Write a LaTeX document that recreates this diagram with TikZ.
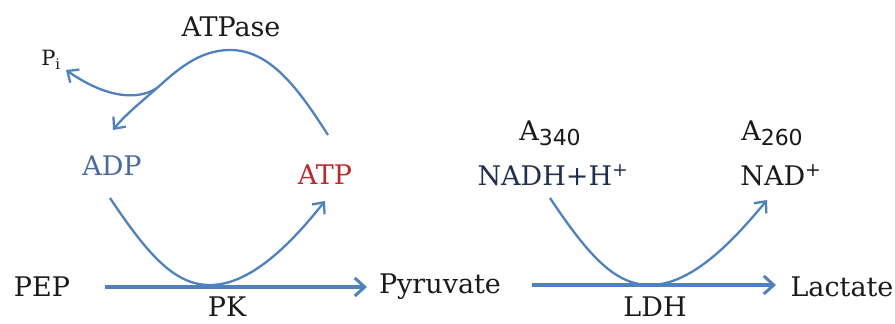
\documentclass[tikz,border=0pt]{standalone}
\usepackage{fontspec}
\setmainfont{DejaVu Serif}
\newfontfamily\subsans{DejaVu Sans}
\usetikzlibrary{arrows.meta}
\definecolor{lineblue}{HTML}{4F81BD}
\definecolor{adpblue}{HTML}{4A6A9E}
\definecolor{atpred}{HTML}{C0272D}
\definecolor{navy}{HTML}{1F2F4F}
\definecolor{txt}{HTML}{1A1A1A}
\tikzset{
  lbl/.style={inner sep=0pt, text=txt, font=\fontsize{27}{30}\selectfont},
  main/.style={draw=lineblue, line width=3.2pt, -{Straight Barb[length=10pt,width=18pt,line width=3pt]}},
  curve/.style={draw=lineblue, line width=2.3pt},
  curvearr/.style={curve, -{Straight Barb[length=9pt,width=16pt,line width=2.3pt]}}
}
\begin{document}
\begin{tikzpicture}[x=1pt,y=-1pt]
\useasboundingbox (0,0) rectangle (895,324);
% labels
\node[lbl] (atpase) at (231,27) {ATPase};
\node[lbl, font=\fontsize{21}{24}\selectfont] (pi) at (51,60) {P\textsubscript{i}};
\node[lbl, text=adpblue] (adp) at (112,166) {ADP};
\node[lbl, text=atpred] (atp) at (325,175) {ATP};
\node[lbl] (pep) at (42,287) {PEP};
\node[lbl] (pk) at (227,307) {PK};
\node[lbl] (pyr) at (440,287) {Pyruvate};
\node[lbl] (a340) at (550,133) {A{\subsans\raisebox{-0.35ex}{\fontsize{22}{24}\selectfont 340}}};
\node[lbl, text=navy] (nadh) at (553,175) {NADH+H\textsuperscript{+}};
\node[lbl] (a260) at (772,133) {A{\subsans\raisebox{-0.35ex}{\fontsize{22}{24}\selectfont 260}}};
\node[lbl] (nad) at (781,175) {NAD\textsuperscript{+}};
\node[lbl] (lac) at (842,287) {Lactate};
\node[lbl] (ldh) at (655,307) {LDH};
% free ends
\coordinate (c1s) at (110,198);
\coordinate (c1b) at (210,285);
\coordinate (c1e) at (325,201);
\coordinate (c2s) at (550,198);
\coordinate (c2b) at (650,285);
\coordinate (c2e) at (767,200);
\coordinate (ats) at (328,135);
\coordinate (atp0) at (230,50);
\coordinate (split) at (157,88);
\coordinate (pie) at (66,70);
\coordinate (adpe) at (113,130);
\coordinate (a1s) at (105,287);
\coordinate (a1e) at (367,287);
\coordinate (a2s) at (532,285);
\coordinate (a2e) at (776,285);
% main arrows
\draw[main] (a1s) -- (a1e);
\draw[main] (a2s) -- (a2e);
% cofactor curves
\draw[curvearr] (c1s) .. controls (150,258) and (176,285) .. (c1b) .. controls (250,285) and (290,245) .. (c1e);
\draw[curvearr] (c2s) .. controls (590,258) and (616,285) .. (c2b) .. controls (690,285) and (730,245) .. (c2e);
% ATPase curve
\draw[curve] (ats) .. controls (298,88) and (270,50) .. (atp0) .. controls (198,50) and (175,72) .. (split);
\draw[curvearr] (split) .. controls (140,103) and (125,115) .. (adpe);
\draw[curvearr] (split) .. controls (142,98) and (112,102) .. (pie);
\end{tikzpicture}
\end{document}
